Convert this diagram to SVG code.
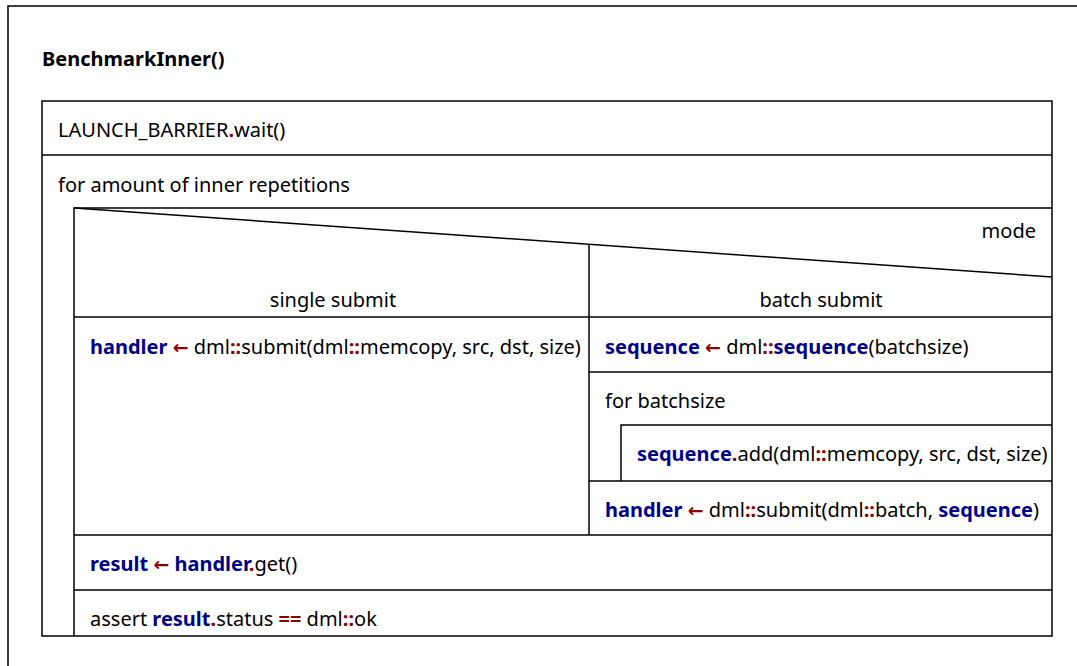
<svg xmlns="http://www.w3.org/2000/svg" width="1077" height="666" viewBox="0 0 1077 666">
<style>
text{font-family:"Noto Sans","Open Sans",sans-serif;font-size:20px;fill:#000}
.b{font-weight:bold;fill:#00008b}
.r{font-weight:bold;fill:#8b0000}
.a{font-weight:bold;fill:#8b0000;font-family:"DejaVu Sans",sans-serif;font-size:19px}
.t{font-weight:bold}
.ln{stroke:#000;stroke-width:1.5;fill:none}
</style>
<rect width="1077" height="666" fill="#fff"/>
<g id="frame">
<rect class="ln" x="8" y="6" width="1100" height="700"/>
<text class="t" x="42" y="66">BenchmarkInner()</text>
</g>
<g id="connectors">
<rect class="ln" x="42" y="101" width="1010" height="535"/>
<line class="ln" x1="42" y1="155" x2="1052" y2="155"/>
<polyline class="ln" points="74,636 74,208 1052,208"/>
<line class="ln" x1="74" y1="208" x2="1052" y2="277"/>
<line class="ln" x1="589" y1="244" x2="589" y2="535"/>
<line class="ln" x1="74" y1="317" x2="1052" y2="317"/>
<line class="ln" x1="589" y1="372" x2="1052" y2="372"/>
<polyline class="ln" points="621,481 621,425 1052,425"/>
<line class="ln" x1="589" y1="481" x2="1052" y2="481"/>
<line class="ln" x1="74" y1="535" x2="1052" y2="535"/>
<line class="ln" x1="74" y1="590" x2="1052" y2="590"/>
</g>
<g id="launch"><text x="58" y="137">LAUNCH_BARRIER<tspan class="r">.</tspan>wait()</text></g>
<g id="loop"><text x="58" y="192">for amount of inner repetitions</text></g>
<g id="mode">
<text x="1036" y="238" text-anchor="end">mode</text>
<text x="333" y="307" text-anchor="middle">single submit</text>
<text x="821" y="307" text-anchor="middle">batch submit</text>
</g>
<g id="single"><text x="90" y="354"><tspan class="b">handler</tspan> <tspan class="a">←</tspan> dml<tspan class="r">::</tspan>submit(dml<tspan class="r">::</tspan>memcopy, src, dst, size)</text></g>
<g id="seq"><text x="605" y="354"><tspan class="b">sequence</tspan> <tspan class="a">←</tspan> dml<tspan class="r">::</tspan><tspan class="b">sequence</tspan>(batchsize)</text></g>
<g id="forbatch"><text x="605" y="408">for batchsize</text></g>
<g id="add"><text x="637" y="461"><tspan class="b">sequence</tspan><tspan class="r">.</tspan>add(dml<tspan class="r">::</tspan>memcopy, src, dst, size)</text></g>
<g id="batchsubmit"><text x="605" y="517"><tspan class="b">handler</tspan> <tspan class="a">←</tspan> dml<tspan class="r">::</tspan>submit(dml<tspan class="r">::</tspan>batch, <tspan class="b">sequence</tspan>)</text></g>
<g id="result"><text x="90" y="571"><tspan class="b">result</tspan> <tspan class="a">←</tspan> <tspan class="b">handler</tspan><tspan class="r">.</tspan>get()</text></g>
<g id="assert"><text x="90" y="626">assert <tspan class="b">result</tspan><tspan class="r">.</tspan>status <tspan class="r">==</tspan> dml<tspan class="r">::</tspan>ok</text></g>
</svg>
